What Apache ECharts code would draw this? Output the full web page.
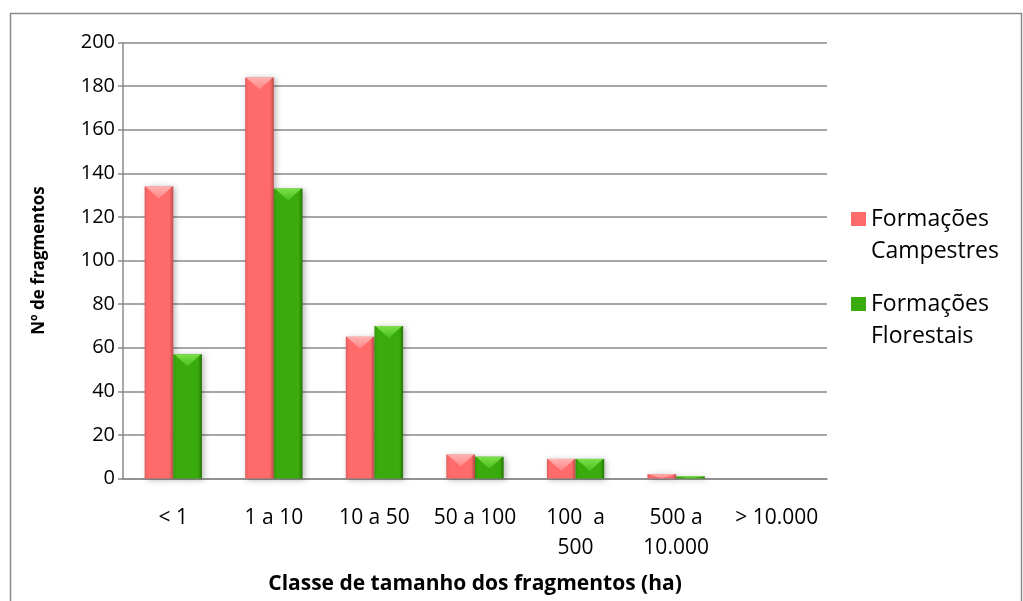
<!DOCTYPE html>
<html>
<head>
<meta charset="utf-8">
<title>Fragmentos por classe de tamanho</title>
<script src="https://cdn.jsdelivr.net/npm/echarts@6/dist/echarts.min.js"></script>
<style>
  html, body { margin: 0; padding: 0; background: #ffffff; }
  #chart { width: 1023px; height: 601px; }
</style>
</head>
<body>
<div id="chart"></div>
<script>
// Size classes (ha) and fragment counts per vegetation type
const categories = ['< 1', '1 a 10', '10 a 50', '50 a 100', '100  a\n500', '500 a\n10.000', '> 10.000'];
const campestres = [134, 184, 65, 11, 9, 2, 0];
const florestais = [57, 133, 70, 10, 9, 1, 0];
const yTicks = { min: 0, max: 200, interval: 20 };

const FONT = '"Open Sans", "Liberation Sans", sans-serif';

// Bevelled bar: body with darker edges and a lighter chevron on top
const palettes = {
  red: {
    edgeL: '#e25d5d', body: '#ff6b6b', edgeR: '#c24c4c',
    capTop: '#ffb3b3', capBottom: '#ff8282'
  },
  green: {
    edgeL: '#33950a', body: '#3aab0c', edgeR: '#277607',
    capTop: '#7be04a', capBottom: '#4cc01a'
  }
};

function makeRenderer(side, pal) {
  return function (params, api) {
    const cat = api.value(0);
    const val = api.value(1);
    const band = api.size([1, 0])[0];
    const bw = band * 0.285;
    const base = api.coord([cat, 0]);
    const top = api.coord([cat, val]);
    const h = base[1] - top[1];
    if (h <= 0.1) return null;
    const x = side < 0 ? base[0] - bw : base[0];
    const y = top[1];
    const d = Math.min(bw * 0.42, h);
    return {
      type: 'group',
      children: [
        {
          type: 'rect',
          shape: { x: x, y: y, width: bw, height: h },
          style: {
            fill: new echarts.graphic.LinearGradient(0, 0, 1, 0, [
              { offset: 0, color: pal.edgeL },
              { offset: 0.1, color: pal.body },
              { offset: 0.86, color: pal.body },
              { offset: 1, color: pal.edgeR }
            ]),
            shadowBlur: 6,
            shadowOffsetX: 2,
            shadowOffsetY: 1,
            shadowColor: 'rgba(0,0,0,0.28)'
          }
        },
        {
          type: 'polygon',
          shape: { points: [[x + 1, y], [x + bw - 1, y], [x + bw / 2, y + d]] },
          style: {
            fill: new echarts.graphic.LinearGradient(0, 0, 0, 1, [
              { offset: 0, color: pal.capTop },
              { offset: 1, color: pal.capBottom }
            ])
          }
        }
      ]
    };
  };
}

// Legend swatch sits beside the first line of a two-line label
const legendIcon = 'path://M0,0L0.01,0M0,9H15V23H0ZM0,64L0.01,64';

const chart = echarts.init(document.getElementById('chart'), null, { renderer: 'canvas' });

chart.setOption({
  backgroundColor: '#ffffff',
  animation: false,
  textStyle: { fontFamily: FONT },
  graphic: [{
    type: 'rect',
    shape: { x: 10.5, y: 13.5, width: 1011, height: 600 },
    style: { fill: 'none', stroke: '#8a8a8a', lineWidth: 1.5 },
    silent: true
  }],
  grid: { left: 123, right: 196, top: 42.5, bottom: 122.5 },
  legend: {
    orient: 'vertical',
    left: 846,
    top: 198,
    itemWidth: 15,
    itemHeight: 64,
    itemGap: 21,
    icon: legendIcon,
    textStyle: { fontFamily: FONT, fontSize: 23, color: '#000', lineHeight: 32 },
    data: ['Formações\nCampestres', 'Formações\nFlorestais']
  },
  xAxis: {
    type: 'category',
    data: categories,
    boundaryGap: true,
    name: 'Classe de tamanho dos fragmentos (ha)',
    nameLocation: 'middle',
    nameGap: 95,
    nameTextStyle: { fontFamily: FONT, fontSize: 21, fontWeight: 'bold', color: '#000' },
    axisLine: { lineStyle: { color: '#8a8a8a', width: 1.5 } },
    axisTick: { alignWithLabel: false, length: 7, lineStyle: { color: '#8a8a8a', width: 1.5 } },
    axisLabel: { fontFamily: FONT, fontSize: 21, color: '#000', margin: 25, lineHeight: 30, interval: 0 },
    splitLine: { show: false }
  },
  yAxis: {
    type: 'value',
    min: yTicks.min,
    max: yTicks.max,
    interval: yTicks.interval,
    name: 'Nº de fragmentos',
    nameLocation: 'middle',
    nameGap: 75,
    nameRotate: 90,
    nameTextStyle: { fontFamily: FONT, fontSize: 17, fontWeight: 'bold', color: '#000' },
    axisLine: { show: true, lineStyle: { color: '#8a8a8a', width: 1.5 } },
    axisTick: { show: true, length: 5, lineStyle: { color: '#8a8a8a', width: 1.5 } },
    axisLabel: { fontFamily: FONT, fontSize: 20, color: '#000', margin: 8 },
    splitLine: { lineStyle: { color: '#8a8a8a', width: 1.5 } }
  },
  series: [
    {
      name: 'Formações\nCampestres',
      type: 'custom',
      itemStyle: { color: '#ff6b6b' },
      renderItem: makeRenderer(-1, palettes.red),
      encode: { x: 0, y: 1 },
      data: campestres.map((v, i) => [i, v])
    },
    {
      name: 'Formações\nFlorestais',
      type: 'custom',
      itemStyle: { color: '#3aab0c' },
      renderItem: makeRenderer(1, palettes.green),
      encode: { x: 0, y: 1 },
      data: florestais.map((v, i) => [i, v])
    }
  ]
});
</script>
</body>
</html>
